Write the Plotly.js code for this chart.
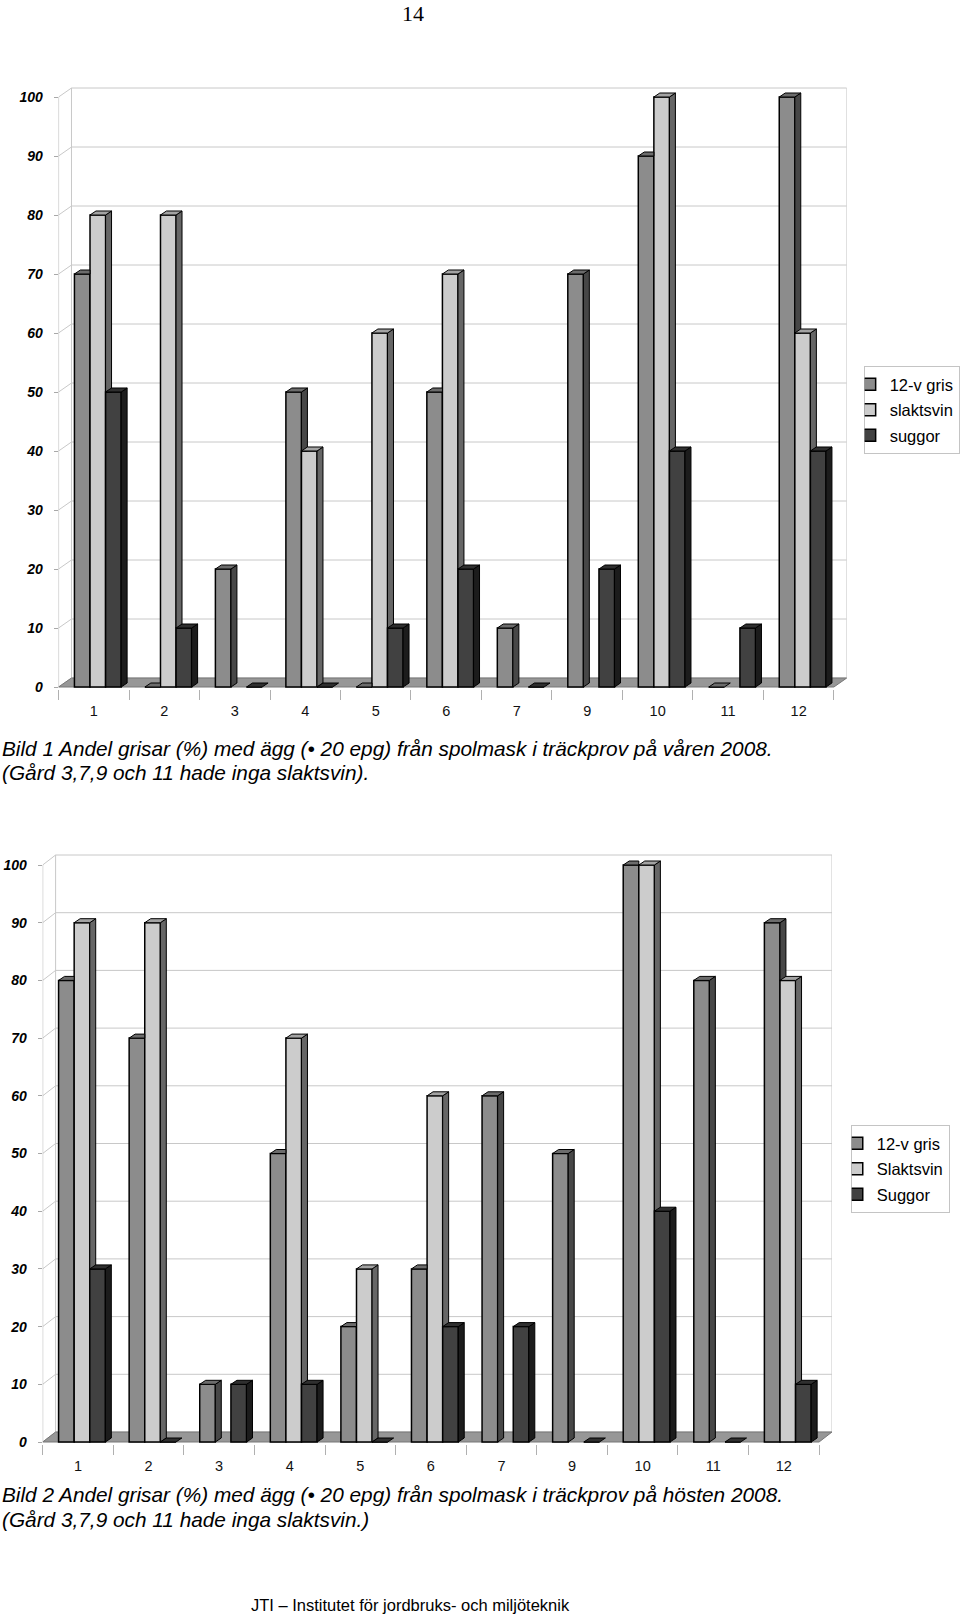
<!DOCTYPE html>
<html><head><meta charset="utf-8">
<script src="https://cdn.plot.ly/plotly-3.0.1.min.js"></script>
<style>html,body{margin:0;padding:0;background:#fff}</style>
</head><body>
<div id="chart" style="width:960px;height:1619px"></div>
<script>
// ---------- DATA ----------
const categories = ['1','2','3','4','5','6','7','9','10','11','12'];
const yTicks = [0,10,20,30,40,50,60,70,80,90,100];

// Bild 1 – våren 2008
const spring_gris      = [70, 0, 20, 50, 0, 50, 10, 70, 90, 0, 100];
const spring_slaktsvin = [80, 80, null, 40, 60, 70, null, null, 100, null, 60];
const spring_suggor    = [50, 10, 0, 0, 10, 20, 0, 20, 40, 10, 40];
const springNames = ['12-v gris','slaktsvin','suggor'];

// Bild 2 – hösten 2008
const autumn_gris      = [80, 70, 10, 50, 20, 30, 60, 50, 100, 80, 90];
const autumn_slaktsvin = [90, 90, null, 70, 30, 60, null, null, 100, null, 80];
const autumn_suggor    = [30, 0, 10, 10, 0, 20, 20, 0, 40, 0, 10];
const autumnNames = ['12-v gris','Slaktsvin','Suggor'];

const caption1 = ['Bild 1 Andel grisar (%) med ägg (• 20 epg) från spolmask i träckprov på våren 2008.',
                  '(Gård 3,7,9 och 11 hade inga slaktsvin).'];
const caption2 = ['Bild 2 Andel grisar (%) med ägg (• 20 epg) från spolmask i träckprov på hösten 2008.',
                  '(Gård 3,7,9 och 11 hade inga slaktsvin.)'];
const pageNumber = '14';
const footerText = 'JTI – Institutet för jordbruks- och miljöteknik';

// ---------- STYLE / LAYOUT ----------
const W = 960, H = 1619;
const FONT = 'Liberation Sans, Arial, sans-serif';
const FRONT = ['#8c8c8c','#cccccc','#414141'];
const TOP   = ['#6c6c6c','#a3a3a3','#2f2f2f'];
const SIDE  = ['#474747','#666666','#1c1c1c'];
const BAR_W = 0.221;
const OFFS = [-0.275, -0.054, 0.167];

const traces = [];
const shapes = [];
const layout = {
  width: W, height: H, margin: {l:0, r:0, t:0, b:0},
  paper_bgcolor: '#fff', plot_bgcolor: 'rgba(0,0,0,0)',
  barmode: 'overlay', showlegend: true,
  annotations: [], shapes: shapes
};

function fx(px){ return px / W; }
function fy(px){ return 1 - px / H; }

function buildChart(k, geo, series, names, legendId, legendBox) {
  const xa = k === 1 ? 'x' : 'x2', ya = k === 1 ? 'y' : 'y2';
  const xKey = k === 1 ? 'xaxis' : 'xaxis2', yKey = k === 1 ? 'yaxis' : 'yaxis2';
  const n = categories.length;
  const dxu = geo.dx / geo.catW, dyu = geo.dy / geo.ppu;
  const bdx = 6 / geo.catW, bdy = 4 / geo.ppu;
  const yPad = 0.3;
  const yTop = 100 + dyu + 0.4;
  const xMax = n - 0.5 + dxu;
  const idx = categories.map((c, i) => i);

  layout[xKey] = {
    domain: [fx(geo.xFront), fx(geo.xFront + n * geo.catW + geo.dx)],
    range: [-0.5, xMax], anchor: ya, showgrid: false, zeroline: false, showline: false,
    tickmode: 'array', tickvals: idx, ticktext: categories, ticks: '', ticklen: 0,
    ticklabelstandoff: 12,
    tickfont: {family: FONT, size: 14.5, color: '#111'},
    minor: {tick0: 0.5, dtick: 1, ticks: 'outside', ticklen: 10, tickcolor: '#b0b0b0', tickwidth: 1, showgrid: false}
  };
  layout[yKey] = {
    domain: [fy(geo.y0 + yPad * geo.ppu), fy(geo.y0 - yTop * geo.ppu)],
    range: [-yPad, yTop], anchor: xa, showgrid: false, zeroline: false, showline: false,
    tickmode: 'array', tickvals: yTicks, ticks: 'outside', ticklen: 4, tickcolor: '#a8a8a8',
    ticklabelstandoff: 8,
    tickfont: {family: FONT, size: 14, color: '#000', weight: 'bold', style: 'italic'}
  };

  const lineStyle = {color: '#c8c8c8', width: 1};
  yTicks.forEach(v => {
    shapes.push({type:'line', xref:xa, yref:ya, layer:'below', x0:-0.5+dxu, y0:v+dyu, x1:n-0.5+dxu, y1:v+dyu, line:lineStyle});
    shapes.push({type:'line', xref:xa, yref:ya, layer:'below', x0:-0.5, y0:v, x1:-0.5+dxu, y1:v+dyu, line:lineStyle});
  });
  const yMaxTick = yTicks[yTicks.length - 1];
  shapes.push({type:'line', xref:xa, yref:ya, layer:'below', x0:-0.5+dxu, y0:dyu, x1:-0.5+dxu, y1:yMaxTick+dyu, line:lineStyle});
  shapes.push({type:'line', xref:xa, yref:ya, layer:'below', x0:n-0.5+dxu, y0:dyu, x1:n-0.5+dxu, y1:yMaxTick+dyu, line:lineStyle});
  shapes.push({type:'line', xref:xa, yref:ya, layer:'below', x0:-0.5, y0:0, x1:-0.5, y1:yMaxTick, line:{color:'#b0b0b0', width:1}});
  shapes.push({type:'path', xref:xa, yref:ya, layer:'below',
    path: `M ${-0.5},0 L ${n-0.5},0 L ${n-0.5+dxu},${dyu} L ${-0.5+dxu},${dyu} Z`,
    fillcolor:'#979797', line:{color:'#777', width:1}});

  series.forEach((vals, s) => {
    traces.push({
      type:'bar', x: idx, y: vals, offset: OFFS[s], width: BAR_W, xaxis: xa, yaxis: ya,
      name: names[s], legend: legendId, legendgroup: legendId + s,
      marker: {color: FRONT[s], line: {color: '#000', width: 1.5}}, hoverinfo: 'skip'
    });
  });
  series.forEach((vals, s) => {
    const tx = [], ty = [], sx = [], sy = [];
    vals.forEach((v, i) => {
      if (v === null || v === undefined) return;
      const x0 = i + OFFS[s], x1 = x0 + BAR_W;
      const nv = s < series.length - 1 ? series[s+1][i] : null;
      const nextTaller = nv !== null && nv !== undefined && nv >= v;
      let top;
      if (nextTaller) top = [[x0,v],[x1,v],[x1,v+bdy],[x0+bdx,v+bdy],[x0,v]];
      else top = [[x0,v],[x1,v],[x1+bdx,v+bdy],[x0+bdx,v+bdy],[x0,v]];
      top.forEach(p => { tx.push(p[0]); ty.push(p[1]); }); tx.push(null); ty.push(null);
      if (!nextTaller && v > 0) {
        const yc = (nv !== null && nv !== undefined) ? nv : 0;
        const side = [[x1,yc],[x1,v],[x1+bdx,v+bdy],[x1+bdx,Math.max(yc,bdy)],[x1,yc]];
        side.forEach(p => { sx.push(p[0]); sy.push(p[1]); }); sx.push(null); sy.push(null);
      }
    });
    traces.push({type:'scatter', mode:'lines', x: sx, y: sy, xaxis: xa, yaxis: ya, fill:'toself',
      fillcolor: SIDE[s], line:{color:'#000', width:1}, showlegend:false, hoverinfo:'skip', connectgaps:false});
    traces.push({type:'scatter', mode:'lines', x: tx, y: ty, xaxis: xa, yaxis: ya, fill:'toself',
      fillcolor: TOP[s], line:{color:'#000', width:1}, showlegend:false, hoverinfo:'skip', connectgaps:false});
  });

  layout[legendId] = {
    x: fx(legendBox.x), y: fy(legendBox.y), xanchor:'left', yanchor:'top',
    bgcolor:'#fff', bordercolor:'#c4c4c4', borderwidth:1,
    font:{family: FONT, size: 16.5, color:'#000'},
    traceorder:'grouped', tracegroupgap: 1, itemwidth: 30, indentation: -15
  };
}

buildChart(1, {xFront:59, catW:71, y0:687, ppu:5.9, dx:13, dy:9},
  [spring_gris, spring_slaktsvin, spring_suggor], springNames, 'legend', {x:870, y:366});
buildChart(2, {xFront:43, catW:71.1, y0:1442, ppu:5.77, dx:13, dy:10},
  [autumn_gris, autumn_slaktsvin, autumn_suggor], autumnNames, 'legend2', {x:857, y:1125});

function ann(text, xpx, ypx, font, anchor) {
  layout.annotations.push({text: text, xref:'paper', yref:'paper', x: fx(xpx), y: fy(ypx),
    xanchor: anchor || 'left', yanchor:'middle', showarrow:false, font: font});
}
const capFont = {family: FONT, size: 20.8, color:'#000', style:'italic'};
ann(caption1[0], 0, 749, capFont);
ann(caption1[1], 0, 773, capFont);
ann(caption2[0], 0, 1494, capFont);
ann(caption2[1], 0, 1519, capFont);
ann(pageNumber, 416, 13, {family:'Liberation Serif, Times New Roman, serif', size:22, color:'#000'}, 'center');
ann(footerText, 414, 1605, {family: FONT, size: 16.5, color:'#000'}, 'center');

Plotly.newPlot('chart', traces, layout, {displayModeBar:false, staticPlot:true});
</script>
</body></html>
